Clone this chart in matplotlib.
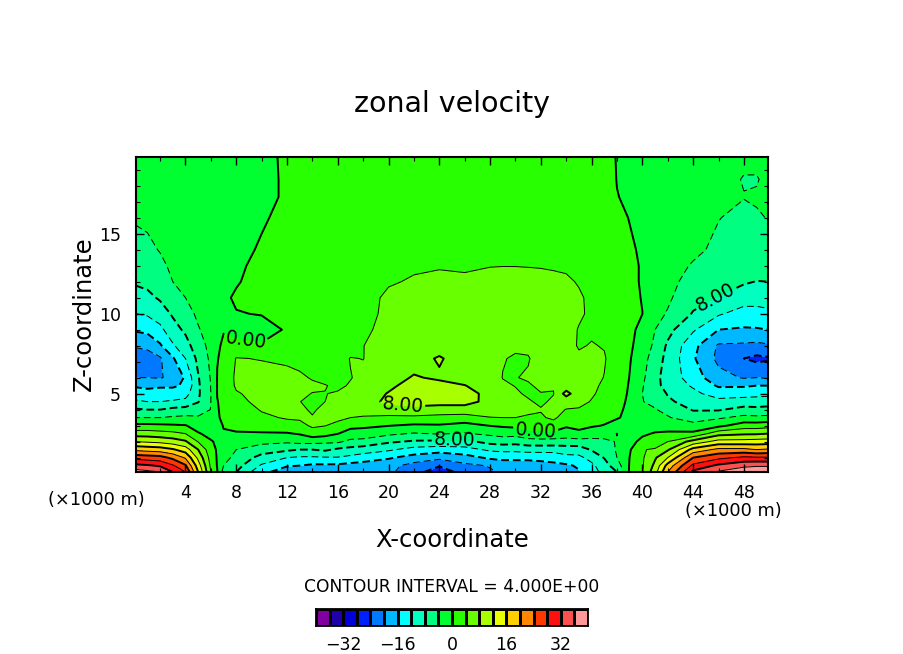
import numpy as np
import matplotlib
matplotlib.use("Agg")
import matplotlib.pyplot as plt
from matplotlib.colors import ListedColormap, BoundaryNorm

W, H = 904, 654

levels = list(range(-40, 44, 4))
band_colors = ["#8000a0", "#2000a8", "#0000d8", "#0020ff", "#0078ff", "#00b8ff", "#00ffff",
               "#00ffc0", "#00ff80", "#00ff30", "#28ff00", "#68ff00", "#a8ff00", "#e8ff00",
               "#ffd000", "#ff8800", "#ff3800", "#ff1010", "#ff5050", "#ff9898"]
cbar_ticks = [-32, -16, 0, 16, 32]

x_km = [0.1, 1, 2, 3, 4, 5, 6, 6.5, 7, 8, 10, 12, 13, 14, 15, 16, 17, 18, 20, 22, 24, 26, 28, 29,
        30, 31, 32, 33, 34, 35, 36, 37, 38, 39, 40, 41, 42, 44, 46, 48, 49, 49.9]
z_km = [0.1, 0.5, 1, 1.5, 2, 2.5, 3, 3.5, 4, 4.5, 5, 5.5, 6, 7.2, 8, 9, 10, 11, 12, 13, 14, 16, 17.3, 18.4, 19.8]

# one line per x_km value, bottom to top along z_km
u_columns = [
    [38, 33, 26.5, 19, 12, 6, 1, -4, -7.5, -11.5, -14, -16.5, -20, -22.5, -19.5, -15.5, -12, -9.5, -7.5, -6.3, -5.3, -3.6, -2.8, -2.4, -2],
    [37, 32.5, 26, 18.5, 11.5, 6, 1, -4, -8, -12, -14.5, -17, -20, -22, -19, -15, -11.5, -9, -7, -5.8, -4.8, -3.3, -2.6, -2.2, -1.8],
    [36, 31.5, 25.5, 18, 11, 5.5, 0.8, -4, -8, -12, -14.5, -16.5, -20.3, -20.5, -16.5, -13, -10, -7.5, -6, -4.8, -3.8, -2.8, -2.2, -1.9, -1.5],
    [32, 28.5, 23, 16.5, 10, 5, 0.5, -3.5, -7, -11.5, -14.5, -16.5, -19, -16.5, -12.5, -9.5, -7.5, -5.8, -4, -3.3, -2.6, -2, -1.7, -1.5, -1.2],
    [28, 24.5, 19.5, 14, 8.5, 4, 0.2, -3.2, -6.5, -11, -13.5, -15.5, -15.5, -12, -9.5, -7.3, -5.5, -4, -3.3, -2.6, -2.2, -1.6, -1.3, -1.2, -1],
    [16, 14, 11, 8, 3.8, 0.3, -1.5, -3.5, -6, -8.2, -8.6, -8.6, -8.3, -7, -5.8, -4.3, -3.3, -2.6, -2.2, -1.8, -1.6, -1.2, -1, -0.9, -0.8],
    [4, 3.2, 2.4, 1.5, 0.3, -1, -2.5, -3.5, -3.9, -4, -4, -3.9, -3.7, -3.2, -2.8, -2.4, -2, -1.7, -1.4, -1.2, -1, -0.8, -0.6, -0.6, -0.5],
    [0.2, -0.2, -0.3, -0.4, -0.5, -0.8, -1.3, -0.3, -0.2, -0.1, 0.1, 0.1, 0.1, -0.1, -0.3, -0.6, -0.9, -0.8, -0.7, -0.6, -0.6, -0.5, -0.4, -0.4, -0.4],
    [-5.5, -4, -2.8, -1.8, -1, -0.3, 0.2, 0.5, 0.6, 0.7, 0.8, 0.8, 0.8, 0.5, 0.3, -0.1, -0.5, -0.4, -0.4, -0.4, -0.4, -0.4, -0.3, -0.3, -0.3],
    [-8, -6.5, -5, -4, -2, -0.2, 0.6, 1.2, 1.8, 3, 3.6, 4.6, 4.8, 4.2, 0.6, -0.8, -0.1, 0.3, -0.2, -0.6, -0.8, -0.8, -0.6, -0.6, -0.5],
    [-15, -12.5, -9.5, -6, -3, -0.3, 1.5, 3.2, 4.3, 5, 5.5, 5.6, 5.5, 3.8, 0.2, -0.8, 0.1, 0.7, 0.9, 0.9, 0.3, -0.3, -0.6, -0.6, -0.5],
    [-18, -15.7, -12, -7.3, -3.4, -0.3, 2.4, 4.4, 4.9, 5.3, 5.6, 5.7, 5.6, 3, 1.5, 0.2, 1, 1.2, 1.3, 1.3, 1.1, 0.7, 0.3, 0.3, 0.3],
    [-18.5, -16, -12.5, -8, -2.8, 0.3, 2.8, 4.6, 4.6, 4.05, 4.6, 5, 4.6, 2.8, 1.7, 1.3, 1.3, 1.4, 1.5, 1.5, 1.3, 1, 0.8, 0.7, 0.7],
    [-19, -16.7, -12.5, -8, -2.8, 2.2, 4.6, 4.2, 3.6, 3.4, 3.9, 4.6, 3.7, 2.6, 2, 1.7, 1.6, 1.7, 1.8, 1.8, 1.6, 1.3, 1.1, 1, 1],
    [-19, -16.7, -12.3, -7.3, -3.2, 1.5, 4.1, 5, 4.8, 4, 3.95, 4.1, 3.4, 2.8, 2.3, 2, 1.9, 1.9, 2, 2, 1.9, 1.6, 1.4, 1.3, 1.3],
    [-19, -16.8, -12.2, -8.7, -3.3, 0.1, 2.8, 5, 5.5, 5, 4.2, 3.6, 3.3, 3, 2.6, 2.3, 2.2, 2.2, 2.2, 2.2, 2.1, 1.8, 1.6, 1.5, 1.5],
    [-19, -17.4, -13, -9.3, -5, -1.5, 1, 4, 5.8, 6, 5.4, 4.2, 3.9, 4.1, 2.9, 2.7, 2.5, 2.5, 2.4, 2.3, 2.2, 2, 1.8, 1.7, 1.6],
    [-18.5, -17.7, -14, -10, -5.2, -1.8, 0.8, 3.6, 5.8, 6.8, 6.2, 5.2, 4.6, 3.95, 3.95, 3.4, 3, 2.8, 2.5, 2.4, 2.3, 2.1, 1.9, 1.8, 1.7],
    [-19, -18.7, -15.5, -11.4, -7.4, -3.2, 0.1, 3, 6.8, 8.6, 8.2, 7.3, 6.6, 5.7, 5.3, 5, 4.7, 4.6, 3.7, 3, 2.7, 2.3, 2.1, 2, 1.8],
    [-23, -21.5, -17.5, -13.5, -8.5, -4.3, -0.6, 3.2, 6.8, 9.6, 10, 9.3, 8.3, 6.5, 5.8, 5.5, 5.2, 4.9, 4.3, 3.6, 3, 2.5, 2.2, 2.1, 1.9],
    [-25.5, -23.8, -19, -14.2, -8.7, -3.7, -0.4, 2.9, 6, 9.6, 10.4, 9, 7.5, 8.4, 6.3, 5.6, 5.4, 5.1, 4.6, 3.8, 3.2, 2.6, 2.3, 2.2, 2],
    [-23, -21, -17.5, -13.5, -9, -4.3, -1.2, 2.2, 6.5, 9.2, 9, 8.1, 6.8, 6.1, 5.8, 5.7, 5.5, 5.2, 4.4, 3.7, 3.3, 2.7, 2.4, 2.3, 2],
    [-20.5, -19.7, -15.3, -11.3, -6.7, -3.2, 0.1, 3.9, 5.5, 7, 7.2, 6.5, 5.8, 5.4, 5.4, 5.5, 5.5, 5.3, 5, 3.9, 3.3, 2.7, 2.4, 2.3, 2],
    [-19.5, -18.8, -14.7, -11, -6.2, -2.5, 0.5, 4, 5.2, 5.8, 5.5, 4.5, 3.9, 4.2, 5.2, 5.4, 5.4, 5.3, 5, 3.95, 3.3, 2.7, 2.4, 2.3, 2],
    [-19.5, -18.5, -14.8, -11, -6.5, -2.7, 0.9, 4, 4.9, 5.1, 4.4, 3.9, 3.9, 3.6, 4.6, 5.2, 5.3, 5.2, 4.9, 3.95, 3.3, 2.8, 2.4, 2.3, 2],
    [-19.2, -18, -15, -10.5, -5.6, -1.3, 1.5, 3.6, 4.7, 4.3, 3.6, 3.7, 4.3, 3.8, 4.6, 5.2, 5.3, 5.2, 4.9, 3.9, 3.3, 2.8, 2.4, 2.3, 2],
    [-18.5, -17.5, -14.8, -10.5, -5.5, -0.8, 1.5, 3.6, 4.2, 3.5, 3.9, 4.5, 5, 5.2, 5.3, 5.4, 5.4, 5.3, 5, 3.8, 3.3, 2.8, 2.4, 2.3, 2],
    [-17.8, -17, -14.5, -10.5, -5.6, -1, 2.5, 4.6, 4.9, 4.5, 3.9, 4.2, 5, 5.6, 5.5, 5.5, 5.4, 5.3, 4.9, 3.6, 3.2, 2.7, 2.4, 2.3, 2],
    [-17, -16.6, -13.2, -10, -5.7, -1.9, 0.5, 2.5, 3.9, 5.2, 9.5, 5.4, 5.4, 5.5, 5.3, 5.3, 5.3, 5.2, 4.6, 3.4, 3.1, 2.7, 2.4, 2.3, 2],
    [-16.3, -15.5, -13, -9.8, -5.7, -0.7, 0.8, 2.2, 3.7, 5, 5.3, 5.2, 5, 4.6, 3.7, 3.8, 4.5, 4.5, 3.7, 3.2, 3, 2.6, 2.3, 2.2, 1.9],
    [-14, -13, -10.5, -7.7, -5, -2.5, 0.5, 1.6, 3, 3.8, 4.4, 4.8, 5, 4.8, 4.2, 3.5, 3.4, 3.2, 3, 2.8, 2.6, 2.3, 2.1, 2, 1.7],
    [-10.5, -9.5, -7.8, -6.5, -4.8, -2.5, -0.2, 1.3, 2.2, 2.8, 3.1, 3.4, 3.9, 4.3, 3.8, 3.2, 3, 2.8, 2.6, 2.4, 2.3, 2, 1.8, 1.7, 1.5],
    [-8, -6, -4, -3.6, -3.8, -4.1, -2.5, 0.5, 1, 1.5, 1.8, 2, 2.2, 2, 1.6, 1.5, 1.4, 1.3, 1.2, 1.2, 1.1, 0.7, 0.1, -0.1, -0.2],
    [0.5, 0.3, 0.05, -0.4, -1.2, -1.8, -2, -1.5, -1.1, -0.8, -0.5, -0.3, -0.1, 0.25, 0.4, 0.6, 0.7, 0.6, 0.5, 0.5, 0.4, -0.1, -0.5, -0.5, -0.5],
    [3.8, 3.6, 3.5, 3.8, 1, -0.6, -2.6, -3.5, -3.7, -3.9, -4, -3.7, -3.2, -2.2, -1.1, -0.7, 0.02, -0.1, -0.2, -0.2, -0.4, -1, -1.1, -1.1, -1],
    [10.5, 9, 7.5, 4.4, 1.8, 0.3, -1.6, -3, -3.8, -4.8, -5.5, -6.9, -7, -6.3, -5, -4, -2.8, -2, -1.6, -1.4, -1.6, -1.6, -1.5, -1.5, -1.3],
    [20, 17.5, 12, 7.5, 4, 0.7, -2, -3.7, -5, -7.3, -8.3, -9.3, -9.5, -9, -8.6, -6.8, -4.3, -3.4, -2.9, -2.6, -2.4, -2, -1.9, -1.8, -1.5],
    [33, 29, 24, 17.5, 9.5, 0.8, -2.5, -6, -8.3, -9.8, -11, -12.5, -14, -15.5, -14.8, -11.5, -8.3, -6.6, -5.4, -4.3, -3.3, -2.5, -2.2, -2, -1.7],
    [36.5, 32.8, 27, 21, 13.5, 6.5, -1, -4.5, -8.4, -10.8, -13.8, -16.5, -18.7, -21, -20.5, -16, -11.5, -8.2, -6, -5.2, -4.7, -3.9, -3.1, -2.7, -2.2],
    [39, 35, 28.8, 21, 13.5, 7.4, 2, -3, -6.5, -10.5, -13.3, -16.5, -20.3, -24, -20.7, -16.4, -13.7, -10, -7.6, -6.5, -5.8, -4.8, -3.9, -4.2, -3.2],
    [39.5, 35.5, 28.5, 20, 13.8, 7.5, 2, -3.2, -6.8, -10.5, -13, -16, -20, -25, -21, -16.3, -13.7, -10, -8.1, -6.3, -5.5, -4.3, -3.7, -4.2, -3.2],
    [39.5, 35.5, 28.5, 20.5, 14, 8, 2.5, -3, -6.6, -10, -13, -16, -20.5, -24.5, -20.5, -16, -13, -10, -8, -6.5, -5.4, -3.9, -3.4, -3.3, -3],
]

# where the five line labels sit, in plot coordinates
label_spots = [(8.8, 8.56), (21.1, 4.25), (25.2, 1.9), (31.6, 2.75), (45.8, 11.0)]
labelled_levels = [-8, 0, 8]


def px_box(left, top, right, bottom):
    return [left / W, 1 - bottom / H, (right - left) / W, (bottom - top) / H]


def line_style(v):
    if v >= 0:
        return "solid"
    return (0, (7, 4)) if v % 8 else (0, (4, 2))


u = np.array(u_columns).T
cmap = ListedColormap(band_colors)
norm = BoundaryNorm(levels, cmap.N)

fig = plt.figure(figsize=(W / 100, H / 100), dpi=100)
ax = fig.add_axes(px_box(136, 157, 768, 472))

ax.contourf(x_km, z_km, u, levels=levels, cmap=cmap, norm=norm)

# thin lines and the unlabelled thick lines go first, clabel only gets the three labelled levels
other_levels = [v for v in levels[1:-1] if v not in labelled_levels]
ax.contour(x_km, z_km, u, levels=other_levels, colors="k",
           linewidths=[1.4 if v % 8 == 0 else 0.7 for v in other_levels],
           linestyles=[line_style(v) for v in other_levels])
cs = ax.contour(x_km, z_km, u, levels=labelled_levels, colors="k", linewidths=1.4,
                linestyles=[line_style(v) for v in labelled_levels])
ax.clabel(cs, manual=label_spots, inline=True, inline_spacing=2,
          fontsize=13.5, fmt=lambda v: f"{abs(v):.2f}")

ax.set_xlim(0.1, 49.9)
ax.set_ylim(0.1, 19.8)
ax.set_xticks(range(4, 50, 4))
ax.set_xticks(range(2, 50, 4), minor=True)
ax.set_yticks([5, 10, 15])
ax.set_yticks([v for v in range(1, 20) if v % 5], minor=True)
ax.tick_params(which="major", direction="in", top=True, right=True, length=5.8, width=1, labelsize=12.5, pad=9)
ax.tick_params(which="minor", direction="in", top=True, right=True, length=2.9, width=0.8)
ax.tick_params(axis="y", which="major", pad=11)
for spine in ax.spines.values():
    spine.set_linewidth(1.5)

fig.text(452 / W, 1 - 104 / H, "zonal velocity", ha="center", va="center", fontsize=20.5)
fig.text(84 / W, 1 - 314 / H, "Z-coordinate", ha="center", va="center", rotation=90, fontsize=17.5)
fig.text(452 / W, 1 - 540 / H, "X-coordinate", ha="center", va="center", fontsize=17.5)
fig.text(96 / W, 1 - 500 / H, "(×1000 m)", ha="center", va="center", fontsize=12.8)
fig.text(733 / W, 1 - 511 / H, "(×1000 m)", ha="center", va="center", fontsize=12.8)
fig.text(452 / W, 1 - 587 / H, "CONTOUR INTERVAL = 4.000E+00", ha="center", va="center", fontsize=12.3)

cax = fig.add_axes(px_box(316, 609, 588, 626))
cax.pcolormesh(levels, [0, 1], [levels[:-1]], cmap=cmap, norm=norm,
               edgecolors="k", linewidth=0.8, shading="flat")
cax.set_yticks([])
cax.set_xticks(cbar_ticks)
cax.tick_params(axis="x", length=0, labelsize=12.5, pad=7)
for spine in cax.spines.values():
    spine.set_linewidth(1.3)

fig.savefig("out.png", dpi=100)
